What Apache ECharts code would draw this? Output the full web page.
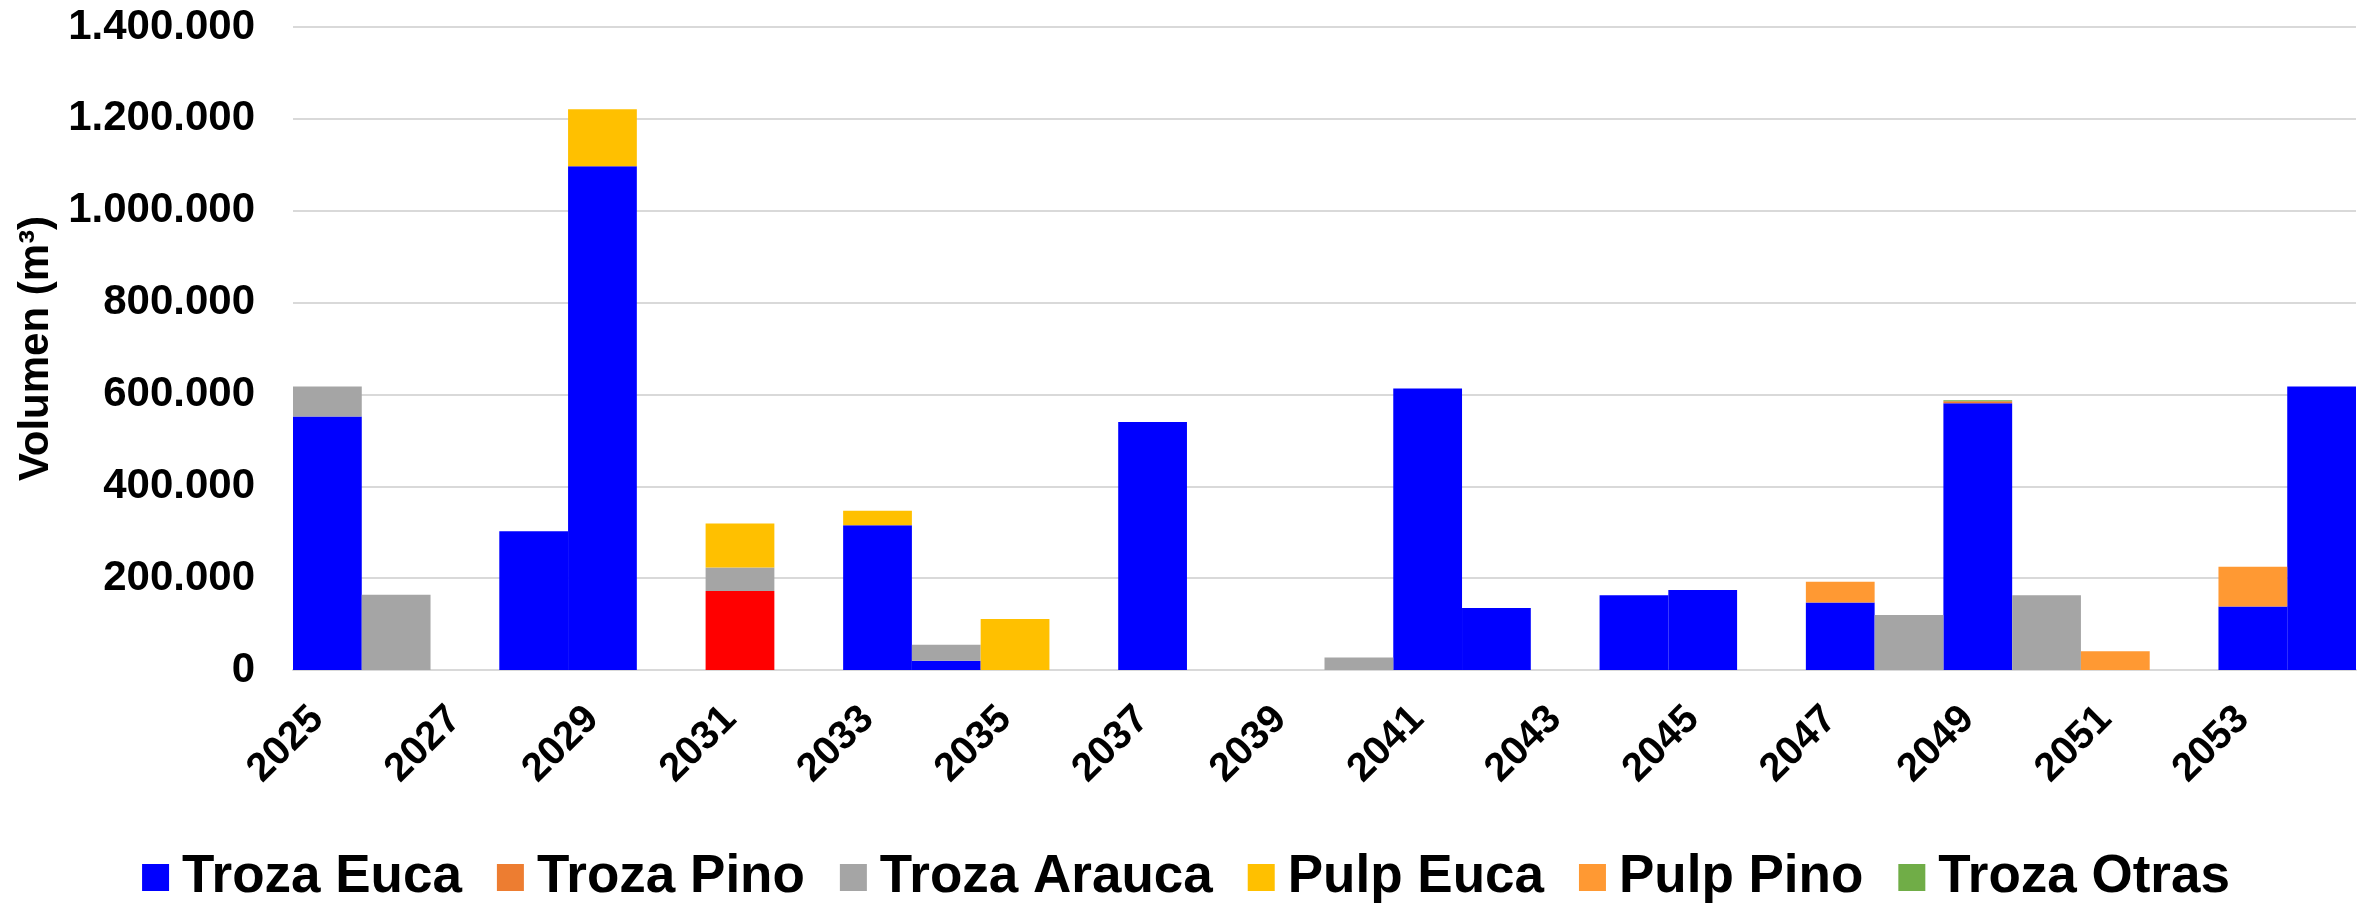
<!DOCTYPE html>
<html>
<head>
<meta charset="utf-8">
<script src="https://cdn.jsdelivr.net/npm/echarts@6/dist/echarts.min.js"></script>
<style>
  html, body { margin: 0; padding: 0; background: #fff; }
  #chart { width: 2372px; height: 906px; }
</style>
</head>
<body>
<div id="chart"></div>
<script>
// años
const years = [
  "2025", "2026", "2027", "2028", "2029", "2030", "2031", "2032", "2033", "2034",
  "2035", "2036", "2037", "2038", "2039", "2040", "2041", "2042", "2043", "2044",
  "2045", "2046", "2047", "2048", "2049", "2050", "2051", "2052", "2053", "2054"
];

// volúmenes por producto (m3)
const trozaEuca = [552000, 0, 0, 302000, 1097000, 0, 0, 0, 315000, 20000,
  0, 0, 540000, 0, 0, 0, 613000, 135000, 0, 163000,
  174000, 0, 147000, 0, 581000, 0, 0, 0, 138000, 617000];
const trozaPino = [0, 0, 0, 0, 0, 0, 172000, 0, 0, 0,
  0, 0, 0, 0, 0, 0, 0, 0, 0, 0,
  0, 0, 0, 0, 4000, 0, 0, 0, 0, 0];
const trozaArauca = [65000, 164000, 0, 0, 0, 0, 51000, 0, 0, 35000,
  0, 0, 0, 0, 0, 27000, 0, 0, 0, 0,
  0, 0, 0, 120000, 0, 163000, 0, 0, 0, 0];
const pulpEuca = [0, 0, 0, 0, 124000, 0, 96000, 0, 32000, 0,
  111000, 0, 0, 0, 0, 0, 0, 0, 0, 0,
  0, 0, 0, 0, 0, 0, 0, 0, 0, 0];
const pulpPino = [0, 0, 0, 0, 0, 0, 0, 0, 0, 0,
  0, 0, 0, 0, 0, 0, 0, 0, 0, 0,
  0, 0, 45000, 0, 0, 0, 41000, 0, 87000, 0];
const trozaOtras = [0, 0, 0, 0, 0, 0, 0, 0, 0, 0,
  0, 0, 0, 0, 0, 0, 0, 0, 0, 0,
  0, 0, 0, 0, 2500, 0, 0, 0, 0, 0];

// ticks del eje Y
const yMin = 0;
const yMax = 1400000;
const yStep = 200000;

const font = "Liberation Sans, Arial, sans-serif";

// punto destacado en rojo (2031, Troza Pino)
const redYear = "2031";

const fmt = (v) => String(v).replace(/\B(?=(\d{3})+(?!\d))/g, ".");

const chart = echarts.init(document.getElementById("chart"));

const mkSeries = (name, data, color) => ({
  name: name,
  type: "bar",
  stack: "total",
  barWidth: "100%",
  barCategoryGap: "0%",
  data: data,
  itemStyle: { color: color },
  emphasis: { disabled: true },
});

const option = {
  animation: false,
  textStyle: { fontFamily: font },
  grid: {
    left: 293,
    right: 16,
    top: 27,
    bottom: 236,
  },
  legend: {
    left: "center",
    top: 846,
    itemWidth: 27,
    itemHeight: 27,
    itemGap: 35,
    icon: "rect",
    textStyle: {
      fontFamily: font,
      fontSize: 53,
      fontWeight: "bold",
      color: "#000",
      padding: [0, 0, 0, 8],
    },
    data: ["Troza Euca", "Troza Pino", "Troza Arauca", "Pulp Euca", "Pulp Pino", "Troza Otras"],
  },
  xAxis: {
    type: "category",
    data: years,
    boundaryGap: true,
    axisLine: { show: true, lineStyle: { color: "#D9D9D9", width: 2 } },
    axisTick: { show: false },
    axisLabel: {
      interval: 1,
      rotate: 45,
      margin: 33,
      padding: [0, 14, 0, 0],
      fontFamily: font,
      fontSize: 40,
      fontWeight: "bold",
      color: "#000",
    },
  },
  yAxis: {
    type: "value",
    min: yMin,
    max: yMax,
    interval: yStep,
    name: "Volumen (m³)",
    nameLocation: "middle",
    nameGap: 232,
    nameTextStyle: {
      fontFamily: font,
      fontSize: 42,
      fontWeight: "bold",
      color: "#000",
    },
    axisLine: { show: false },
    axisTick: { show: false },
    splitLine: { show: true, lineStyle: { color: "#D9D9D9", width: 2 } },
    axisLabel: {
      formatter: fmt,
      margin: 38,
      fontFamily: font,
      fontSize: 42,
      fontWeight: "bold",
      color: "#000",
    },
  },
  series: [
    mkSeries("Troza Euca", trozaEuca, "#0000FF"),
    mkSeries(
      "Troza Pino",
      trozaPino.map((v, i) =>
        years[i] === redYear ? { value: v, itemStyle: { color: "#FF0000" } } : v
      ),
      "#ED7D31"
    ),
    mkSeries("Troza Arauca", trozaArauca, "#A5A5A5"),
    mkSeries("Pulp Euca", pulpEuca, "#FFC000"),
    mkSeries("Pulp Pino", pulpPino, "#FF9933"),
    mkSeries("Troza Otras", trozaOtras, "#70AD47"),
  ],
};

chart.setOption(option);
</script>
</body>
</html>
